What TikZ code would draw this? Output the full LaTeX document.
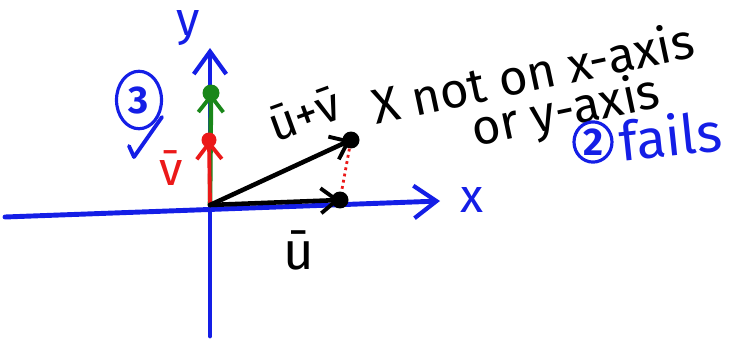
\documentclass[tikz,border=0pt]{standalone}
\usepackage{fontspec}
\setmainfont{Fira Sans}
\usetikzlibrary{positioning,arrows.meta,shapes.geometric}
\definecolor{penblue}{RGB}{20,30,230}
\definecolor{penred}{RGB}{235,25,25}
\definecolor{pengreen}{RGB}{25,135,25}
\tikzset{
  axisline/.style={draw=penblue, line width=2.8pt, line cap=round, -{Straight Barb[length=4.5mm, width=6.5mm, line width=2.4pt]}},
  vecline/.style={line width=2.6pt, line cap=round, -{Straight Barb[length=3.2mm, width=5mm, line width=2.2pt]}},
  tipdot/.style={circle, fill=#1, inner sep=0pt, minimum size=3.4mm},
  tipdot/.default=black,
  pentext/.style={font=\fontsize{27}{30}\selectfont, inner sep=0pt},
  circnum/.style={draw=penblue, line width=1.8pt, ellipse, inner sep=0.5pt, text=penblue}
}

\begin{document}
\begin{tikzpicture}[x=0.02cm, y=-0.02cm]
  \useasboundingbox (0,0) rectangle (730,341);
  % axes
  \coordinate (xs) at (5,217);
  \coordinate (xe) at (440,201);
  \coordinate (ys) at (210,336);
  \coordinate (ye) at (210,48);
  \coordinate (origin) at (210,205);
  \draw[axisline] (xs) -- (xe);
  \draw[axisline] (ys) -- (ye);
  \node[pentext, text=penblue] (xlab) at (472,200) {x};
  \node[pentext, text=penblue] (ylab) at (188,28) {y};
  % vectors on the y-axis
  \node[tipdot=pengreen] (gtip) at (211,93) {};
  \draw[vecline, pengreen] (origin) -- (gtip.center);
  \node[tipdot=penred, minimum size=3mm] (vtip) at (209,140) {};
  \draw[vecline, penred, line width=2.2pt] (origin) -- (vtip.center);
  \node[pentext, text=penred] (vlab) at (171,168) {\=v};
  % u and u+v
  \node[tipdot] (u) at (340,200) {};
  \node[tipdot] (uv) at (351,140) {};
  \draw[vecline] (origin) -- (u.center);
  \draw[vecline] (origin) -- (uv.center);
  \draw[penred, line width=1.6pt, dotted] (uv) -- (u);
  \node[pentext, font=\fontsize{30}{32}\selectfont] (ulab) at (299,250) {\=u};
  \node[pentext, rotate=20] (uvlab) at (304,114) {\=u+\=v};
  % notes
  \node[pentext, font=\fontsize{28}{30}\selectfont, rotate=12] (note1) at (533,72) {X not on x-axis};
  \node[pentext, font=\fontsize{28}{30}\selectfont, rotate=12] (note2) at (566,113) {or y-axis};
  \node[circnum, font=\fontsize{22}{24}\selectfont\bfseries, minimum width=7.6mm, minimum height=7.2mm] (two) at (593,142) {2};
  \node[pentext, font=\fontsize{31}{33}\selectfont, text=penblue, rotate=6, anchor=west] (fails) at ([xshift=1mm, yshift=0.3mm]two.east) {fails};
  \node[circnum, font=\fontsize{22}{24}\selectfont\bfseries, minimum height=11.5mm, minimum width=9mm] (three) at (139,100) {3};
  \draw[penblue, line width=2.2pt, line cap=round, line join=round] (129,146) -- (134,157) -- (162,117);
\end{tikzpicture}
\end{document}
